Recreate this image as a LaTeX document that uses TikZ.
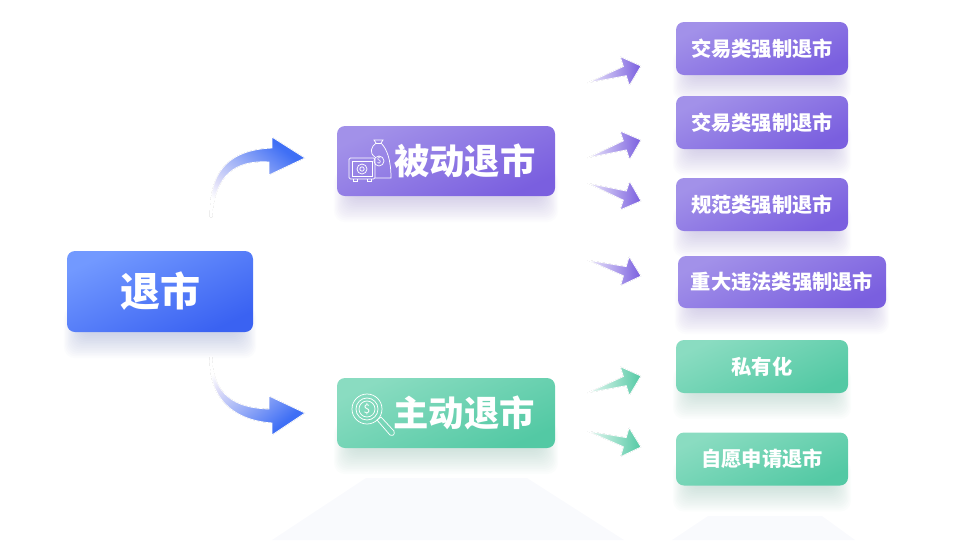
\documentclass[tikz,border=0pt]{standalone}
\usepackage{fontspec}
\setmainfont{Noto Sans CJK SC}
\usetikzlibrary{calc,backgrounds}
\definecolor{blueA}{HTML}{7299FF}
\definecolor{blueB}{HTML}{3A62F2}
\definecolor{purpleA}{HTML}{A291E9}
\definecolor{purpleB}{HTML}{7A5FDF}
\definecolor{greenA}{HTML}{8ADCC1}
\definecolor{greenB}{HTML}{53C9A4}
\definecolor{floorgray}{HTML}{F9FAFD}
\definecolor{tailA}{HTML}{DEDDF8}
\definecolor{tailB}{HTML}{9DB0F7}
\definecolor{tailC}{HTML}{3F6FF5}
\pgfdeclarehorizontalshading{bigtail}{100bp}{color(0bp)=(white); color(24bp)=(white); color(33bp)=(tailA); color(50bp)=(tailB); color(72bp)=(tailC); color(100bp)=(tailC)}
\newcommand{\softshadow}[2]{
  \foreach \i in {0,...,14}
    \fill [#2,opacity=.022,rounded corners=8pt]
      ($(#1.south west)+(14-1.2*\i,-12-\i)$) rectangle ($(#1.south east)+(-14+1.2*\i,2+1.7*\i)$);
}
\newcommand{\slimarrow}[3]{
  \fill [#3,postaction={draw=white,line width=.6pt}] (#1) -- ($(#1)!.70!(#2)!3.6pt!-90:(#2)$) -- ($(#1)!.70!(#2)!11.4pt!-90:(#2)$) -- (#2)
    -- ($(#1)!.70!(#2)!11.4pt!90:(#2)$) -- ($(#1)!.70!(#2)!3.6pt!90:(#2)$) -- cycle;
}
\begin{document}
\begin{tikzpicture}[x=.75pt,y=-.75pt,
  box/.style={rounded corners=6pt,inner sep=0pt,text=white},
  bluebox/.style={box,top color=blueA,bottom color=blueB,shading angle=25},
  purplebox/.style={box,top color=purpleA,bottom color=purpleB,shading angle=25},
  greenbox/.style={box,top color=greenA,bottom color=greenB,shading angle=25},
  topbox/.style={minimum width=163.5pt,minimum height=52.5pt,font=\bfseries\fontsize{26.5}{30}\selectfont},
  leafbox/.style={minimum width=129pt,minimum height=39.75pt,font=\bfseries\fontsize{15.2}{18}\selectfont},
  icon/.style={draw=white,line width=.55pt},
  bigarrow/.style={shading=bigtail,postaction={draw=white,line width=.6pt}},
  slimpurple/.style={left color=purpleA!18!white,middle color=purpleA!65!white,right color=purpleB},
  slimgreen/.style={left color=greenA!18!white,middle color=greenA!75!white,right color=greenB}]
\useasboundingbox (0,0) rectangle (960,540);
\node [bluebox,minimum width=139.5pt,minimum height=60.75pt,font=\bfseries\fontsize{30}{34}\selectfont] (exit) at (160,291.5) {\raisebox{1pt}{退市}};
\node [purplebox,topbox] (passive) at (446,161) {\hspace{28pt}\raisebox{.5pt}{被动退市}};
\node [greenbox,topbox] (active) at (446,413) {\hspace{27pt}\raisebox{1.8pt}{主动退市}};
\node [purplebox,leafbox] (trade) at (762,48.5) {交易类强制退市};
\node [purplebox,leafbox] (tradeb) at (762,122.5) {交易类强制退市};
\node [purplebox,leafbox] (norm) at (762,204.5) {规范类强制退市};
\node [purplebox,leafbox,minimum width=156pt,minimum height=39pt] (illegal) at (782,282) {重大违法类强制退市};
\node [greenbox,leafbox] (private) at (762,366.5) {私有化};
\node [greenbox,leafbox] (willing) at (762,459) {自愿申请退市};
\begin{scope}[on background layer]
\fill [floorgray] (272,540) -- (366,478) -- (527,478) -- (624,540) -- cycle;
\fill [floorgray] (672,540) -- (708,516) -- (822,516) -- (855,540) -- cycle;
\softshadow{exit}{blueB!45!gray}
\softshadow{passive}{purpleB!60!gray}
\softshadow{active}{greenB!50!gray}
\foreach \n in {trade,tradeb,norm,illegal} {
  \softshadow{\n}{purpleB!60!gray}
}
\foreach \n in {private,willing} {
  \softshadow{\n}{greenB!50!gray}
}
\end{scope}
\fill [bigarrow,shading angle=50] (210,217) .. controls (209,175) and (225,150) .. (272,148) -- (272,137) -- (305,158) -- (269,175) -- (269,162) .. controls (235,160) and (215,175) .. (212,217) -- cycle;
\fill [bigarrow,shading angle=-50] (210,357) .. controls (208,395) and (230,420) .. (272,423) -- (272,435) -- (305,413) -- (269,396) -- (269,409) .. controls (235,408) and (213,395) .. (212,357) -- cycle;
\coordinate (startA) at (587,83);
\coordinate (tipA) at (641,66);
\coordinate (startB) at (587,158);
\coordinate (tipB) at (641,140);
\coordinate (startC) at (587,183);
\coordinate (tipC) at (641,201);
\coordinate (startD) at (587,260);
\coordinate (tipD) at (641,276);
\coordinate (startE) at (587,393);
\coordinate (tipE) at (641,376);
\coordinate (startF) at (587,431);
\coordinate (tipF) at (641,447);
\slimarrow{startA}{tipA}{slimpurple}
\slimarrow{startB}{tipB}{slimpurple}
\slimarrow{startC}{tipC}{slimpurple}
\slimarrow{startD}{tipD}{slimpurple}
\slimarrow{startE}{tipE}{slimgreen}
\slimarrow{startF}{tipF}{slimgreen}
\draw [icon,rounded corners=1pt] (349,158) rectangle (375,179);
\draw [icon] (352,161) rectangle (372,176);
\draw [icon] (362,169) circle (5) (362,169) circle (2.2);
\draw [icon] (353,179) -- (353,181) -- (357,181) -- (357,179) (367,179) -- (367,181) -- (371,181) -- (371,179);
\draw [icon] (375,157) .. controls (369,153) and (371,147) .. (376,143) -- (374,140) -- (383,140) -- (381,143) .. controls (387,149) and (391,160) .. (391,178) -- (375,178);
\draw [icon] (376,143) -- (381,143);
\draw [icon] (379,161) circle (5);
\node [text=white,font=\fontsize{6}{6}\selectfont] (bagsign) at (379,161) {\$};
\draw [icon] (367,409) circle (15) (367,409) circle (11) (367,409) circle (8);
\node [text=white,font=\fontsize{9}{9}\selectfont] (lenssign) at (367,409) {\$};
\draw [icon] (377,420) -- (381,417) -- (394,431) .. controls (395,435) and (393,436) .. (390,435) -- cycle;
\end{tikzpicture}
\end{document}
